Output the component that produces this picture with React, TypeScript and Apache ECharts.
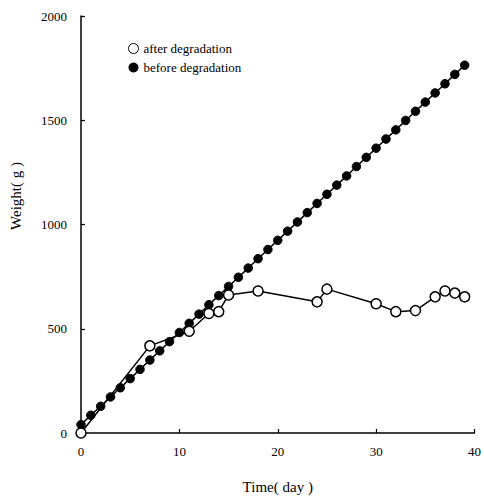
import React, { useEffect, useRef } from "react";
import * as echarts from "echarts";

const beforeDays = [0,1,2,3,4,5,6,7,8,9,10,11,12,13,14,15,16,17,18,19,20,21,22,23,24,25,26,27,28,29,30,31,32,33,34,35,36,37,38,39];
const beforeWeight = [40,85,128,173,217,261,305,350,394,438,482,526,570,615,659,703,747,791,836,880,924,968,1012,1057,1101,1145,1189,1233,1278,1322,1366,1410,1454,1499,1543,1587,1631,1675,1720,1764];

const afterDays = [0,7,11,13,14,15,18,24,25,30,32,34,36,37,38,39];
const afterWeight = [0,418,488,573,582,662,681,629,690,620,582,587,653,681,671,653];

const FONT = "'Liberation Serif', 'DejaVu Serif', serif";

export default function App() {
  const ref = useRef<HTMLDivElement>(null);
  useEffect(() => {
    if (!ref.current) return;
    const chart = echarts.init(ref.current, undefined, { renderer: "svg" });
    const axisCommon = {
      axisLine: { show: true, lineStyle: { color: "#000", width: 1.5 } },
      axisTick: { show: true, inside: true, length: 4, lineStyle: { color: "#000", width: 1.2 } },
      splitLine: { show: false },
      axisLabel: { color: "#000", fontFamily: FONT, fontSize: 13, formatter: (v: number) => String(v) },
    };
    chart.setOption({
      animation: false,
      backgroundColor: "#fff",
      grid: { left: 81, right: 3, top: 16, bottom: 57, containLabel: false },
      legend: {
        orient: "vertical",
        left: 123,
        top: 37,
        itemGap: 6,
        itemWidth: 10,
        itemHeight: 10,
        textStyle: { color: "#000", fontFamily: FONT, fontSize: 13 },
        data: [
          { name: "after degradation", icon: "circle", itemStyle: { borderWidth: 1 } },
          { name: "before degradation", icon: "circle" },
        ],
      },
      graphic: [
        {
          type: "text",
          x: 16,
          y: 196,
          rotation: Math.PI / 2,
          style: {
            text: "Weight( g )",
            fill: "#000",
            font: `15px ${FONT}`,
            textAlign: "center",
            textVerticalAlign: "middle",
          },
        },
      ],
      xAxis: {
        type: "value",
        min: 0,
        max: 40,
        interval: 10,
        name: "Time( day )",
        nameLocation: "middle",
        nameGap: 46,
        nameTextStyle: { color: "#000", fontFamily: FONT, fontSize: 15 },
        ...axisCommon,
        axisLabel: { ...axisCommon.axisLabel, margin: 12 },
      },
      yAxis: {
        type: "value",
        min: 0,
        max: 2000,
        interval: 500,
        ...axisCommon,
        axisLabel: { ...axisCommon.axisLabel, margin: 14 },
      },
      series: [
        {
          name: "before degradation",
          type: "line",
          data: beforeDays.map((d, i) => [d, beforeWeight[i]]),
          symbol: "circle",
          symbolSize: 8.5,
          itemStyle: { color: "#000", borderColor: "#000" },
          lineStyle: { color: "#000", width: 1.5 },
          z: 2,
        },
        {
          name: "after degradation",
          type: "line",
          data: afterDays.map((d, i) => [d, afterWeight[i]]),
          symbol: "circle",
          symbolSize: 10,
          itemStyle: { color: "#fff", borderColor: "#000", borderWidth: 1.5 },
          lineStyle: { color: "#000", width: 1.5 },
          z: 3,
        },
      ],
    });
    return () => chart.dispose();
  }, []);
  return (
    <div
      ref={ref}
      style={{ position: "absolute", left: 0, top: 0, width: 484, height: 499 }}
    />
  );
}
